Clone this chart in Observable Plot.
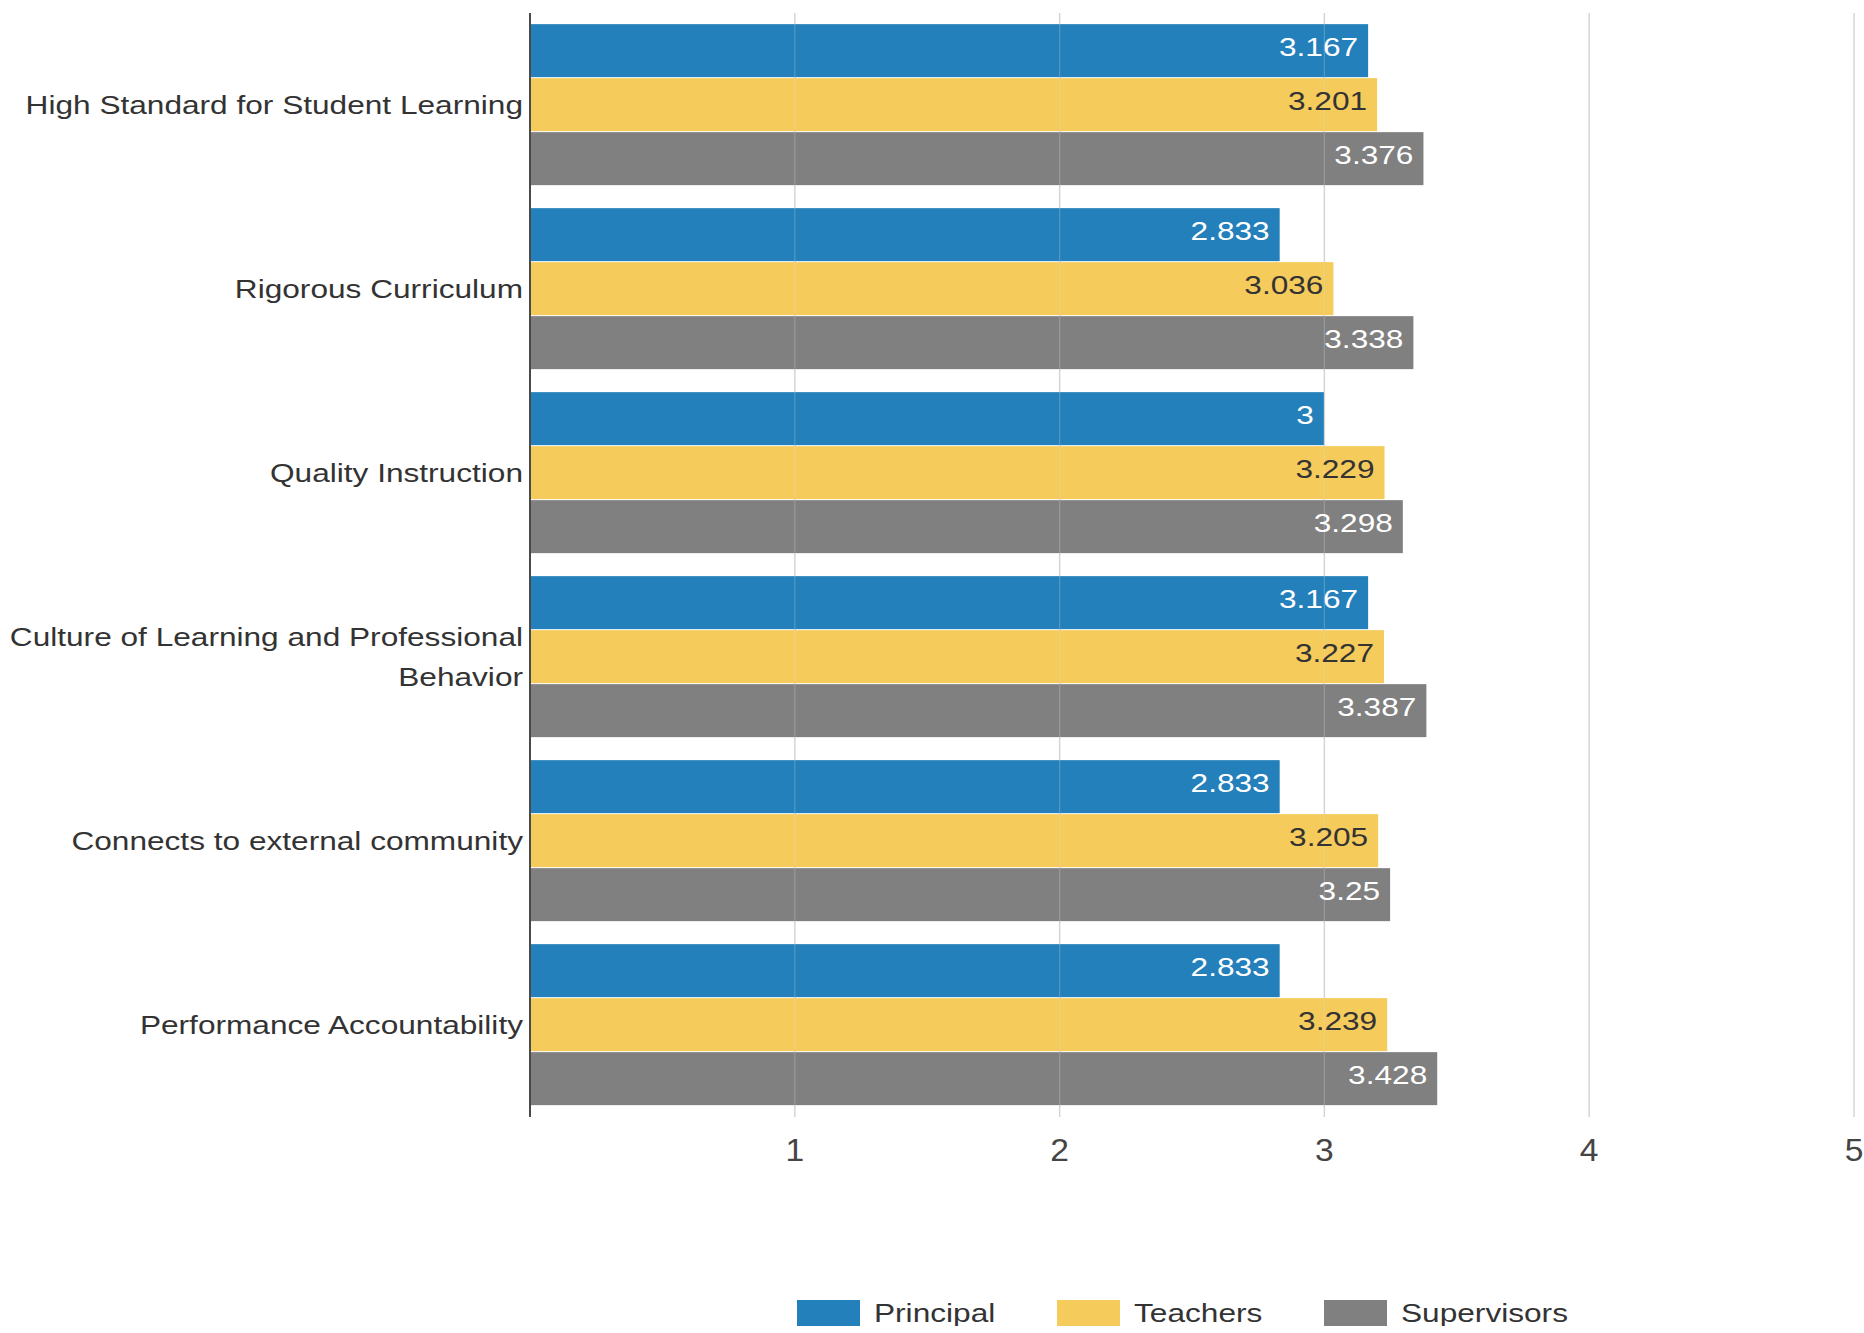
<!DOCTYPE html>
<html>
<head>
<meta charset="utf-8">
<script src="https://cdn.jsdelivr.net/npm/d3@7"></script>
<script src="https://cdn.jsdelivr.net/npm/@observablehq/plot@0.6"></script>
<style>
  html, body { margin: 0; padding: 0; background: #fff; }
  #chart svg { display: block; }
  #legend {
    display: flex; align-items: center; justify-content: center;
    height: 26px; margin-top: 115px;
    font-family: "Liberation Sans", Arial, Helvetica, sans-serif;
    font-size: 25.5px; color: #333;
  }
  #legend .item { display: flex; align-items: center; flex: none; }
  #legend .sw { width: 63px; height: 26px; margin-right: 14px; flex: none; }
  #legend .lab { display: inline-block; white-space: nowrap; transform-origin: 0 50%; }
</style>
</head>
<body>
<div id="chart"></div>
<div id="legend"></div>
<script>
// ---- data ----
const categories = [
  "High Standard for Student Learning",
  "Rigorous Curriculum",
  "Quality Instruction",
  "Culture of Learning and Professional Behavior",
  "Connects to external community",
  "Performance Accountability"
];
const series = ["Principal", "Teachers", "Supervisors"];
const principal   = [3.167, 2.833, 3,     3.167, 2.833, 2.833];
const teachers    = [3.201, 3.036, 3.229, 3.227, 3.205, 3.239];
const supervisors = [3.376, 3.338, 3.298, 3.387, 3.25,  3.428];
const colors = ["#2380ba", "#f5cb5c", "#808080"];
const xTicks = [1, 2, 3, 4, 5];

// ---- build table ----
const valuesBySeries = [principal, teachers, supervisors];
const rows = [];
categories.forEach((c, i) => {
  series.forEach((s, j) => rows.push({category: c, series: s, value: valuesBySeries[j][i]}));
});

const FONT = "'Liberation Sans', Arial, Helvetica, sans-serif";
const STRETCH = 1.24;
const TICK_STRETCH = 1.05;
const W = 1864, H = 1185;
const mL = 529.5, mR = 10.5, mT = 11.35, plotH = 1106.5;

const chart = Plot.plot({
  width: W,
  height: H,
  marginLeft: mL,
  marginRight: mR,
  marginTop: mT,
  marginBottom: H - mT - plotH,
  style: {fontFamily: FONT, fontSize: "25.5px", color: "#333", background: "white"},
  x: {domain: [0, 5], axis: null},
  y: {domain: series, paddingInner: 0, paddingOuter: 0.175, axis: null},
  fy: {domain: categories, padding: 0, axis: null},
  color: {domain: series, range: colors},
  marks: [
    Plot.ruleX(xTicks, {stroke: "#cfcfcf", strokeWidth: 1.3}),
    Plot.barX(rows, {fy: "category", y: "series", x: "value", fill: "series", insetTop: 0.5, insetBottom: 0.5}),
    Plot.ruleX(xTicks, {stroke: "#e0e0e0", strokeOpacity: 0.25, strokeWidth: 1.3}),
    Plot.ruleX([0], {stroke: "#4a4a4a", strokeWidth: 2}),
    Plot.text(rows, {
      filter: d => d.series !== "Teachers",
      fy: "category", y: "series", x: "value",
      text: d => String(d.value),
      textAnchor: "end", dx: -10.5, dy: -3.5, fill: "white", fontSize: 25.5
    }),
    Plot.text(rows, {
      filter: d => d.series === "Teachers",
      fy: "category", y: "series", x: "value",
      text: d => String(d.value),
      textAnchor: "end", dx: -10.5, dy: -3.5, fill: "#333", fontSize: 25.5
    }),
    Plot.text(categories, {
      fy: d => d, text: d => d,
      frameAnchor: "left", textAnchor: "end", dx: -7, dy: -4,
      lineWidth: 18, lineHeight: 1.57, fill: "#333", fontSize: 25.5
    }),
    Plot.axisX({ticks: xTicks, tickFormat: d => String(d), tickSize: 0, tickPadding: 21,
                fontSize: 32, fill: "#444", label: null, ariaLabel: "x-axis"})
  ]
});

// horizontally widen all text, as in the reference rendering
chart.querySelectorAll("text").forEach(t => {
  const isTick = !!t.closest('[aria-label^="x-axis"]');
  const s = isTick ? TICK_STRETCH : STRETCH;
  const x = +t.getAttribute("x") || 0, y = +t.getAttribute("y") || 0;
  const tr = t.getAttribute("transform") || "";
  t.setAttribute("transform", `${tr} translate(${x},${y}) scale(${s},1) translate(${-x},${-y})`);
});

document.getElementById("chart").appendChild(chart);

// ---- legend (HTML, below the SVG) ----
const legend = document.getElementById("legend");
legend.style.paddingLeft = (mL - 18) + "px";
legend.style.paddingRight = mR + "px";
const labels = [];
series.forEach((s, i) => {
  const item = document.createElement("div");
  item.className = "item";
  const sw = document.createElement("div");
  sw.className = "sw";
  sw.style.background = colors[i];
  const lab = document.createElement("span");
  lab.className = "lab";
  lab.textContent = s;
  lab.style.transform = `scaleX(${STRETCH})`;
  item.appendChild(sw);
  item.appendChild(lab);
  legend.appendChild(item);
  labels.push(lab);
});
labels.forEach((lab, i) => {
  const w = lab.offsetWidth;
  lab.style.marginRight = (w * (STRETCH - 1) + (i < labels.length - 1 ? 62 : 0)) + "px";
});
</script>
</body>
</html>
